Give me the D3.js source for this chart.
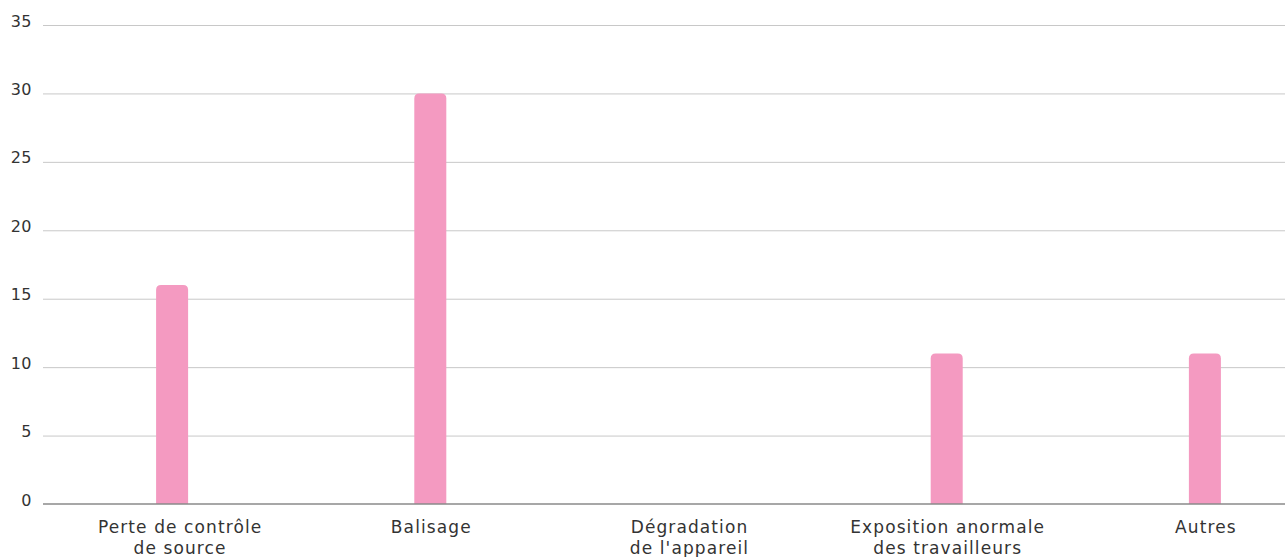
<!DOCTYPE html>
<html><head><meta charset="utf-8">
<script src="https://cdn.jsdelivr.net/npm/d3@7"></script>
<style>body{margin:0;background:#fff}svg{display:block}</style>
</head><body>
<svg id="c" width="1285" height="557"></svg>
<script>
const categories = [["Perte de contrôle","de source"],["Balisage"],["Dégradation","de l'appareil"],["Exposition anormale","des travailleurs"],["Autres"]];
const values = [16, 30, 0, 11, 11];
const yTicks = [0, 5, 10, 15, 20, 25, 30, 35];

const svg = d3.select("#c");
const font = "'DejaVu Sans', sans-serif";
const left = 43, right = 1285, baseY = 504, topY = 25;
const y = d3.scaleLinear().domain([0, 35]).range([baseY, topY]);
const x = d3.scaleBand().domain(d3.range(categories.length)).range([43, 1334]).paddingInner(0.876).paddingOuter(0.438);

// grid
svg.append("g").selectAll("line").data(yTicks.filter(d => d > 0)).join("line")
  .attr("x1", left).attr("x2", right).attr("y1", d => y(d) + 0.5).attr("y2", d => y(d) + 0.5)
  .attr("stroke", "#c8c8c8").attr("stroke-width", 1);

svg.append("g").selectAll("text").data(yTicks).join("text")
  .attr("x", 32).attr("y", d => y(d) - 4).attr("dy", "0.35em")
  .attr("text-anchor", "end").attr("font-family", font).attr("font-size", 16).attr("letter-spacing", "0.5px").attr("fill", "#333")
  .text(d => d);

// bars with rounded top
const r = 5;
svg.append("g").selectAll("path").data(values).join("path")
  .attr("fill", "#f49ac1")
  .attr("d", (v, i) => {
    if (v <= 0) return "";
    const x0 = x(i), w = x.bandwidth(), yt = y(v), yb = y(0);
    return `M${x0},${yb}V${yt + r}Q${x0},${yt} ${x0 + r},${yt}H${x0 + w - r}Q${x0 + w},${yt} ${x0 + w},${yt + r}V${yb}Z`;
  });

// baseline
svg.append("line").attr("x1", left).attr("x2", right).attr("y1", baseY).attr("y2", baseY)
  .attr("stroke", "#8a8a8a").attr("stroke-width", 1.5);

// x labels (first label is nudged right, as in the source)
const lx = i => x(i) + x.bandwidth() / 2 + (i === 0 ? 8 : 1);
const xl = svg.append("g").selectAll("text").data(categories).join("text")
  .attr("text-anchor", "middle").attr("font-family", font).attr("font-size", 17).attr("letter-spacing", "1.1px").attr("fill", "#333")
  .attr("x", (d, i) => lx(i)).attr("y", 533);
xl.selectAll("tspan").data(d => d).join("tspan")
  .attr("x", function() { return d3.select(this.parentNode).attr("x"); })
  .attr("dy", (d, j) => j === 0 ? 0 : 21).text(d => d);
</script>
</body></html>
